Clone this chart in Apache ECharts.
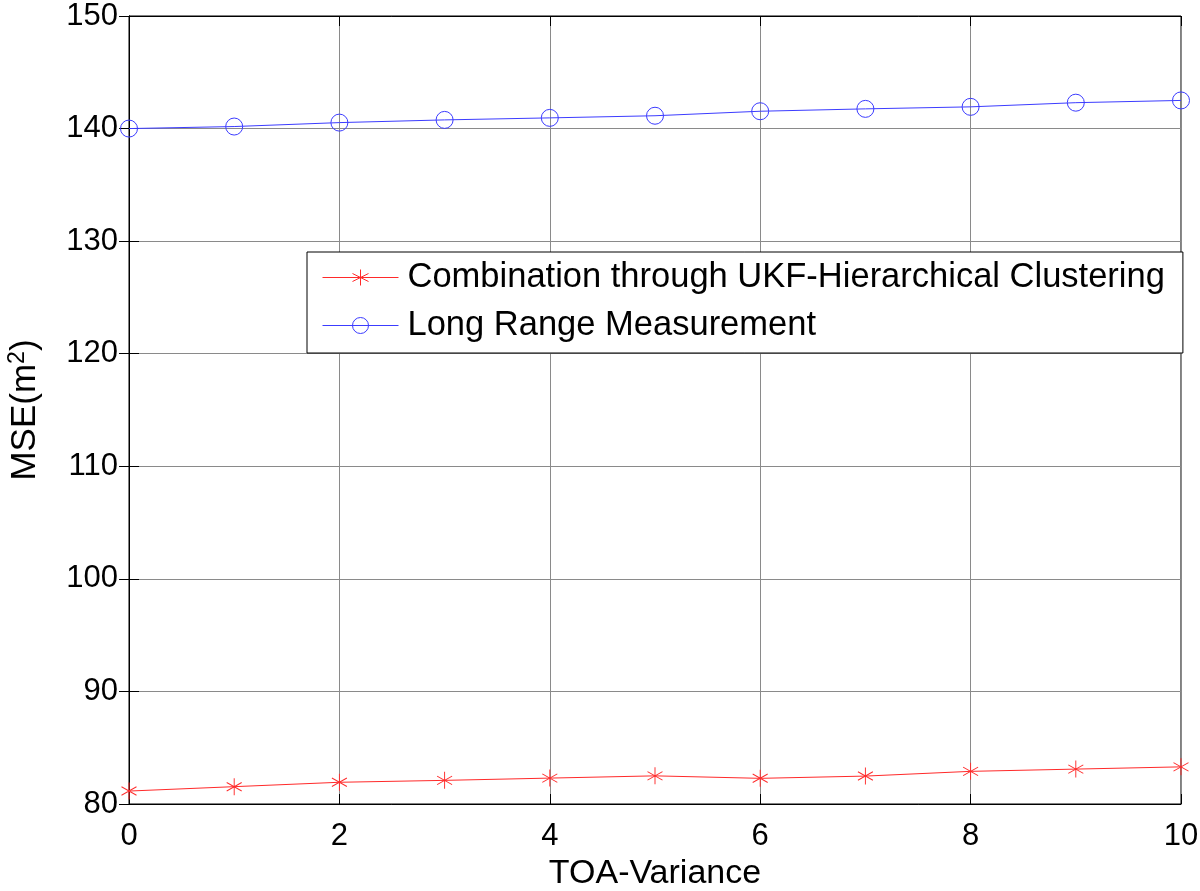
<!DOCTYPE html>
<html><head><meta charset="utf-8">
<script src="https://cdn.jsdelivr.net/npm/echarts@6/dist/echarts.min.js"></script>
<style>html,body{margin:0;padding:0;background:#fff}#c{width:1200px;height:891px}</style>
</head><body><div id="c"></div>
<script>
const xValues = [0,1,2,3,4,5,6,7,8,9,10];
const ukfValues = [81.15,81.54,81.93,82.1,82.3,82.5,82.28,82.48,82.9,83.1,83.3];
const longRangeValues = [140.0,140.18,140.53,140.77,140.95,141.14,141.54,141.75,141.93,142.3,142.5];
const seriesNames = ['Combination through UKF-Hierarchical Clustering','Long Range Measurement'];
const xTitle = 'TOA-Variance';
const yTitle = '{m|MSE(m}{sup|2}{m|)}';

const asterisk = 'path://M0,-1L0,1M-0.866,-0.5L0.866,0.5M-0.866,0.5L0.866,-0.5';
const font = 'Liberation Sans, Arial, sans-serif';
const chart = echarts.init(document.getElementById('c'));
const pair = (xs, ys) => xs.map((x,i)=>[x, ys[i]]);
chart.setOption({
  animation:false,
  backgroundColor:'#fff',
  grid:{left:129,right:19,top:16,bottom:87,containLabel:false,outerBoundsMode:'none',show:true,borderColor:'#000',borderWidth:1,backgroundColor:'transparent'},
  legend:{
    show:true, left:307, top:252, orient:'vertical',
    itemWidth:76, itemHeight:20, itemGap:13,
    padding:[8,18,10,15],
    borderColor:'#000', borderWidth:1, backgroundColor:'#fff',
    lineStyle:{width:1},
    itemStyle:{borderWidth:1},
    textStyle:{fontFamily:font,fontSize:34.5,color:'#000',padding:[0,0,0,4]},
    data:seriesNames
  },
  xAxis:[{
    type:'value', min:0, max:10, interval:2,
    name:xTitle, nameLocation:'middle', nameGap:50,
    nameTextStyle:{fontFamily:font,fontSize:34,color:'#000'},
    axisLine:{show:true,onZero:false,lineStyle:{color:'#000'}},
    axisTick:{show:true,inside:true,length:10,lineStyle:{color:'#000'}},
    axisLabel:{fontFamily:font,fontSize:31,color:'#000',margin:17},
    splitLine:{show:true,lineStyle:{color:'#8a8a8a',width:1}}
  },{
    type:'value', min:0, max:10, interval:2, position:'top',
    axisLine:{show:true,lineStyle:{color:'#000'}},
    axisTick:{show:true,inside:true,length:10,lineStyle:{color:'#000'}},
    axisLabel:{show:false}, splitLine:{show:false}
  }],
  yAxis:[{
    type:'value', min:80, max:150, interval:10,
    name:yTitle, nameLocation:'middle', nameGap:84, nameRotate:90,
    nameTextStyle:{fontFamily:font,fontSize:35,color:'#000',
      rich:{m:{fontFamily:font,fontSize:35,color:'#000'},
            sup:{fontFamily:font,fontSize:23,color:'#000',padding:[0,0,16,0]}}},
    axisLine:{show:true,onZero:false,lineStyle:{color:'#000'}},
    axisTick:{show:true,inside:true,length:10,lineStyle:{color:'#000'}},
    axisLabel:{fontFamily:font,fontSize:31,color:'#000',margin:11,padding:[14,0,0,0]},
    splitLine:{show:true,lineStyle:{color:'#8a8a8a',width:1}}
  },{
    type:'value', min:80, max:150, interval:10, position:'right',
    axisLine:{show:true,lineStyle:{color:'#000'}},
    axisTick:{show:true,inside:true,length:10,lineStyle:{color:'#000'}},
    axisLabel:{show:false}, splitLine:{show:false}
  }],
  series:[{
    name:seriesNames[0], type:'line', data:pair(xValues,ukfValues),
    symbol:asterisk, symbolSize:[15,17], showAllSymbol:true,
    lineStyle:{color:'#ff2a2a',width:1},
    itemStyle:{color:'none',borderColor:'#ff2a2a',borderWidth:1}
  },{
    name:seriesNames[1], type:'line', data:pair(xValues,longRangeValues),
    symbol:'circle', symbolSize:17, showAllSymbol:true,
    lineStyle:{color:'#3c3cff',width:1},
    itemStyle:{color:'none',borderColor:'#3c3cff',borderWidth:1}
  }]
});
</script></body></html>
